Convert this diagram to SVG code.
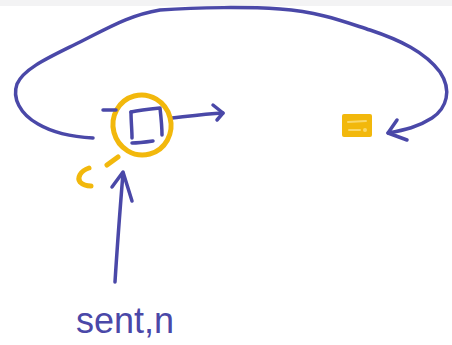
<svg xmlns="http://www.w3.org/2000/svg" width="452" height="345" viewBox="0 0 452 345">
  <defs>
    <style>
      .ink { fill: none; stroke: #4a48a8; stroke-width: 3.5; stroke-linecap: round; stroke-linejoin: round; }
      .hl { fill: none; stroke: #f2b80c; stroke-width: 5; stroke-linecap: round; stroke-linejoin: round; }
      .label { font-family: "Liberation Sans", Arial, sans-serif; font-size: 36px; fill: #4a48a8; }
    </style>
  </defs>
  <rect x="0" y="0" width="452" height="345" fill="#ffffff"/>
  <rect x="0" y="0" width="452" height="6" fill="#f3f3f4"/>

  <g id="connectors">
    <path class="ink" d="M93,138 C75,137 55,134 38,124 C20,114 12,98 17,84 C24,68 50,57 80,42 C110,27 130,15 160,10 C200,7 250,7 280,9 C320,12 345,22 370,30 C400,40 425,52 440,72 C452,90 447,108 432,118 C418,127 405,130 388,133"/>
    <path class="ink" d="M397,120 L388,133 L407,140"/>
    <path class="ink" d="M172,118 C190,116 205,114 223,113"/>
    <path class="ink" d="M213,105 L223,113 L217,120"/>
    <path class="ink" d="M115,282 C117,250 120,210 123,173"/>
    <path class="ink" d="M112,187 L123,172 L132,201"/>
  </g>

  <g id="node-left">
    <ellipse class="hl" cx="142" cy="125" rx="29" ry="30" transform="rotate(-15 142 125)"/>
    <path class="hl" d="M118,157 L107,165"/>
    <path class="hl" d="M89,168 C80,171 77,178 80,182 C83,185 88,186 91,186"/>
    <path class="ink" d="M103,110 L116,110"/>
    <path class="ink" d="M131,112 C140,110 150,109 160,108 C161,117 162,126 162,135"/>
    <path class="ink" d="M131,112 C131,121 132,130 132,138"/>
    <path class="ink" d="M132,143 C139,143 146,142 153,141"/>
  </g>

  <g id="node-right">
    <rect x="342" y="114" width="30" height="23" rx="2" fill="#f2b80c"/>
    <path d="M348,122 L366,121 M349,130 L360,130" fill="none" stroke="#f9d86a" stroke-width="2" stroke-linecap="round"/>
    <circle cx="365" cy="130" r="2" fill="#f9d86a"/>
  </g>

  <g id="label">
    <text class="label" x="76" y="333">sent,n</text>
  </g>
</svg>
